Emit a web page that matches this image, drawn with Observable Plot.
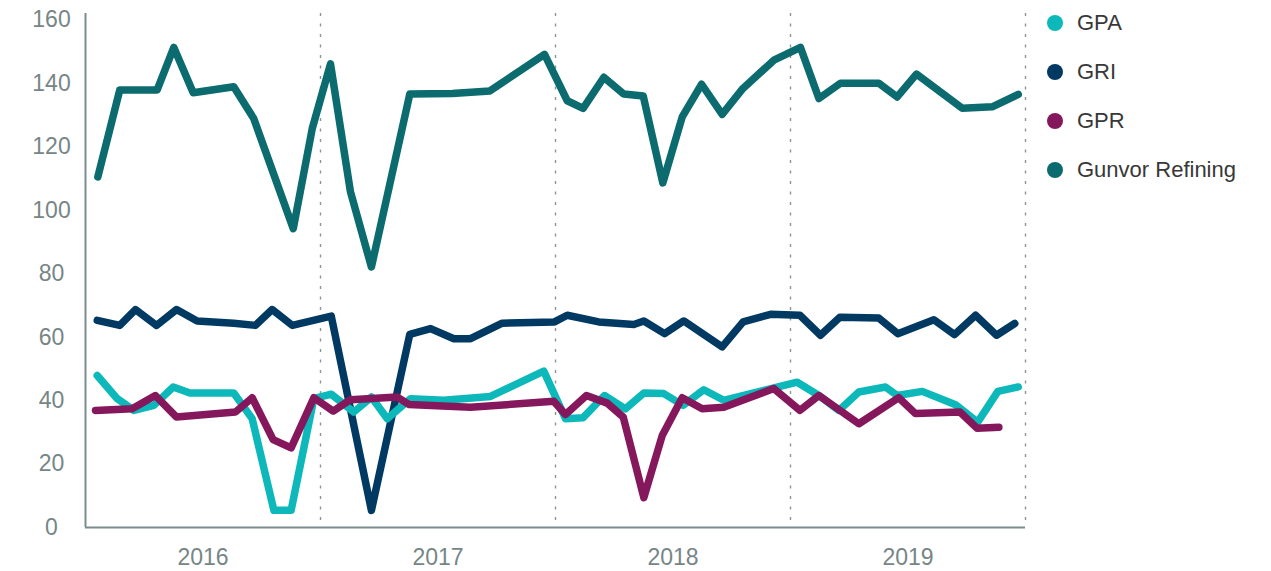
<!DOCTYPE html>
<html>
<head>
<meta charset="utf-8">
<script src="https://cdn.jsdelivr.net/npm/d3@7"></script>
<script src="https://cdn.jsdelivr.net/npm/@observablehq/plot@0.6"></script>
<style>
  html, body { margin: 0; padding: 0; background: #fff; }
  #wrap { position: relative; width: 1271px; height: 571px; font-family: "Liberation Sans", Arial, sans-serif; }
  #legend { position: absolute; left: 1047px; top: -2px; }
  .item { display: flex; align-items: center; height: 49.2px; font-size: 22px; color: #383838; }
  .dot { width: 16px; height: 16px; border-radius: 50%; margin-right: 14px; }
</style>
</head>
<body>
<div id="wrap"><div id="chart"></div><div id="legend"></div></div>
<script>
// x = months since January 2016 (fractional), y = value
const seriesNames = ["GPA", "GRI", "GPR", "Gunvor Refining"];
const seriesColors = ["#0cb8b9", "#003a63", "#85185c", "#0b6b6e"];

const gpaM = [0.60, 1.62, 2.47, 3.49, 4.48, 5.33, 7.57, 8.51, 9.62, 10.50, 11.66, 12.55, 13.70, 14.60, 15.41, 16.60, 18.30, 20.68, 23.40, 24.51, 25.41, 26.50, 27.57, 28.51, 29.53, 30.52, 31.57, 32.59, 36.34, 37.45, 38.47, 39.49, 40.85, 41.45, 42.73, 44.43, 45.56, 46.59, 47.63];
const gpaV = [47.9, 40.6, 36.9, 38.5, 44.3, 42.4, 42.4, 34.3, 5.4, 5.4, 40.6, 42.0, 36.4, 41.1, 34.3, 40.6, 40.1, 41.3, 49.3, 34.3, 34.6, 41.6, 37.4, 42.4, 42.2, 38.5, 43.4, 40.1, 45.8, 41.6, 36.9, 42.7, 44.3, 41.6, 42.9, 38.7, 33.2, 42.9, 44.3];

const griM = [0.60, 1.75, 2.55, 3.63, 4.65, 5.70, 7.57, 8.68, 9.53, 10.56, 12.55, 14.60, 16.56, 17.62, 18.81, 19.66, 21.28, 23.95, 24.60, 26.21, 28.00, 28.51, 29.57, 30.55, 32.51, 33.58, 34.98, 36.48, 37.53, 38.52, 40.51, 41.48, 43.32, 44.38, 45.45, 46.52, 47.45];
const griV = [65.3, 63.7, 68.7, 63.7, 68.7, 65.1, 64.4, 63.7, 68.7, 63.7, 66.6, 5.4, 60.9, 62.7, 59.5, 59.5, 64.4, 64.8, 66.9, 64.8, 64.0, 65.1, 61.1, 65.1, 56.9, 64.8, 67.2, 66.9, 60.6, 66.3, 66.0, 61.1, 65.5, 60.8, 66.9, 60.6, 64.3];

const gprM = [0.51, 2.38, 3.57, 4.65, 7.66, 8.51, 9.58, 10.50, 11.66, 12.65, 13.53, 15.92, 16.51, 19.66, 23.91, 24.51, 25.58, 26.64, 27.46, 28.51, 29.45, 30.47, 31.49, 32.59, 35.15, 36.48, 37.45, 39.49, 41.53, 42.38, 44.65, 45.53, 46.64];
const gprV = [36.9, 37.4, 41.6, 34.8, 36.4, 40.9, 27.7, 25.1, 40.9, 36.7, 40.3, 41.1, 38.8, 37.9, 39.8, 35.6, 41.6, 39.2, 34.8, 9.4, 29.0, 40.9, 37.4, 37.9, 43.8, 36.9, 41.6, 32.7, 40.9, 35.9, 36.4, 31.3, 31.6];

const refM = [0.63, 1.75, 3.66, 4.51, 5.50, 7.57, 8.59, 10.61, 11.58, 12.51, 13.53, 14.60, 16.56, 18.73, 20.65, 23.44, 24.60, 25.41, 26.47, 27.49, 28.48, 29.48, 30.47, 31.46, 32.51, 33.53, 35.15, 36.51, 37.45, 38.55, 40.51, 41.45, 42.43, 44.77, 46.30, 47.63];
const refV = [110.5, 137.9, 137.9, 151.3, 137.0, 138.9, 128.9, 94.2, 125.8, 146.1, 105.8, 82.1, 136.6, 136.8, 137.6, 149.1, 134.5, 132.1, 141.9, 136.6, 136.0, 108.6, 129.4, 139.7, 130.2, 138.1, 147.3, 151.3, 135.2, 140.0, 140.0, 135.7, 142.9, 132.1, 132.6, 136.5];

const yearLabels = ["2016", "2017", "2018", "2019"];
const yearCenters = [6, 18, 30, 42];
const yearBounds = [12, 24, 36, 48];
const yTicks = [0, 20, 40, 60, 80, 100, 120, 140, 160];

const build = (name, ms, vs) => ms.map((m, i) => ({series: name, m, v: vs[i]}));
const drawOrder = [
  build("Gunvor Refining", refM, refV),
  build("GRI", griM, griV),
  build("GPA", gpaM, gpaV),
  build("GPR", gprM, gprV)
];

const axisColor = "#7c8b8b";
const lineOpts = {x: "m", y: "v", stroke: "series", strokeWidth: 7.5, strokeLinejoin: "round", strokeLinecap: "round"};

const chart = Plot.plot({
  width: 1271,
  height: 571,
  marginLeft: 85,
  marginRight: 246,
  marginTop: 13,
  marginBottom: 44,
  style: {fontFamily: "'Liberation Sans', Arial, sans-serif", background: "#fff"},
  x: {domain: [0, 48]},
  y: {domain: [0, 162]},
  color: {domain: seriesNames, range: seriesColors},
  marks: [
    Plot.ruleX(yearBounds, {stroke: "#8a9696", strokeWidth: 1.4, strokeDasharray: "3,7.5"}),
    Plot.ruleX([0], {stroke: axisColor, strokeWidth: 2}),
    Plot.ruleY([0], {stroke: axisColor, strokeWidth: 2}),
    ...drawOrder.map(d => Plot.line(d, lineOpts)),
    Plot.axisY({ticks: yTicks, tickSize: 0, tickPadding: 34, textAnchor: "middle", fontSize: 23, fill: "#768686", label: null}),
    Plot.axisX({ticks: yearCenters, tickFormat: d => yearLabels[yearCenters.indexOf(d)], tickSize: 0, tickPadding: 21, fontSize: 23, fill: "#768686", label: null})
  ]
});
document.getElementById("chart").appendChild(chart);

const legend = document.getElementById("legend");
seriesNames.forEach((n, i) => {
  const item = document.createElement("div");
  item.className = "item";
  item.innerHTML = `<span class="dot" style="background:${seriesColors[i]}"></span><span>${n}</span>`;
  legend.appendChild(item);
});
</script>
</body>
</html>
